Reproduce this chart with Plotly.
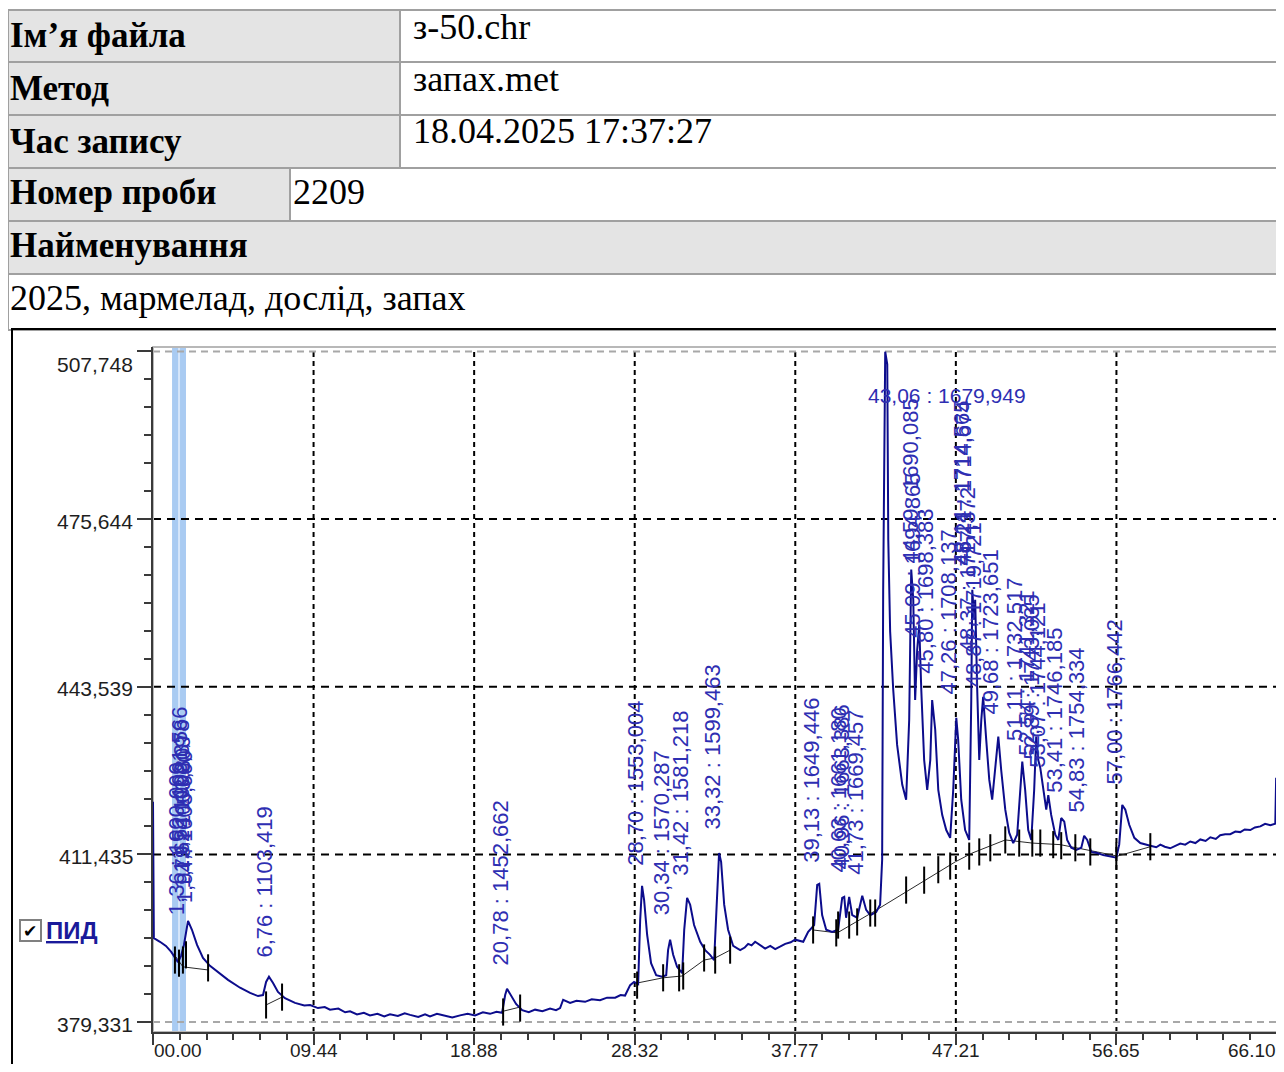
import plotly.graph_objects as go

# Паспорт проби (таблиця над хроматограмою)
field_names = ["Ім’я файла", "Метод", "Час запису", "Номер проби", "Найменування"]
field_values = ["з-50.chr", "запах.met", "18.04.2025 17:37:27", "2209", ""]
sample_name = "2025, мармелад, дослід, запах"

# Хроматограма ПИД: час утримання, хв / сигнал
time_min = [
    0.0, 0.05, 0.41, 0.76, 1.06, 1.29, 1.47, 1.65, 1.82, 2.06,
    2.29, 2.59, 2.94, 3.35, 3.82, 4.41, 5.12, 5.71, 6.18, 6.47,
    6.65, 6.82, 7.06, 7.35, 7.76, 8.35, 8.9,
    9.24, 9.7, 10.1, 10.41, 10.9, 11.3, 11.59, 12.0, 12.4, 12.76,
    13.2, 13.6, 13.94, 14.4, 14.8, 15.12, 15.6, 16.0, 16.29, 16.7,
    17.18, 17.6, 18.06, 18.5, 18.94, 19.4, 19.82, 20.2, 20.53, 20.71,
    20.82, 21.06, 21.35, 21.71, 22.1, 22.47, 22.9, 23.35, 23.7, 23.94,
    24.12, 24.53, 24.9, 25.41, 25.8, 26.29, 26.7, 27.18, 27.5, 27.76,
    28.06, 28.29, 28.53, 28.65, 28.76, 28.88, 29.06, 29.29, 29.59, 29.94,
    30.18, 30.29, 30.41, 30.59, 30.82, 31.12, 31.24, 31.41, 31.59, 31.82,
    32.18, 32.47, 32.76, 33.0, 33.18, 33.29, 33.41, 33.59, 33.82, 34.12,
    34.53, 34.8, 35.0, 35.2, 35.41, 35.7, 36.0, 36.3, 36.59, 36.9,
    37.18, 37.5, 37.76, 38.24, 38.53, 38.88, 39.06, 39.18, 39.35, 39.59,
    39.94, 40.29, 40.53, 40.65, 40.76, 40.94, 41.12, 41.41, 41.59, 41.71,
    41.94, 42.18, 42.53, 42.76, 42.88, 42.94, 43.06, 43.18, 43.24, 43.35,
    43.53, 43.76, 44.06, 44.29, 44.47, 44.59, 44.71, 44.82, 44.94, 45.06,
    45.18, 45.35, 45.53, 45.71, 45.82, 46.0, 46.18, 46.41, 46.65, 46.88,
    47.06, 47.24, 47.35, 47.53, 47.76, 48.0, 48.12, 48.18, 48.29, 48.35,
    48.47, 48.59, 48.71, 48.82, 49.0, 49.18, 49.35, 49.53, 49.71, 49.88,
    50.12, 50.35, 50.59, 50.82, 51.0, 51.12, 51.29, 51.47, 51.65, 51.82,
    51.94, 52.06, 52.18, 52.35, 52.53, 52.65, 52.82, 53.06, 53.24, 53.41,
    53.59, 53.76, 54.0, 54.29, 54.59, 54.76, 54.94, 55.18, 55.53, 55.88,
    56.29, 56.65, 56.82, 57.0, 57.18, 57.41, 57.71, 58.06, 58.65, 59.0,
    59.24, 59.5, 59.82, 60.1, 60.41, 60.7, 61.0, 61.3, 61.59, 61.9,
    62.18, 62.5, 62.76, 63.05, 63.35, 63.65, 63.94, 64.2, 64.53, 64.8,
    65.12, 65.4, 65.71, 66.0, 66.05,
]
signal = [
    421.5, 395.4, 394.7, 393.9, 392.8, 391.6, 390.8, 392.0, 394.1, 398.7,
    397.0, 394.1, 391.6, 390.1, 388.9, 387.4, 385.9, 384.9, 384.3, 384.5,
    387.0, 388.0, 386.8, 385.1, 383.9, 383.0, 382.5,
    382.6, 382.0, 382.2, 381.7, 381.9, 381.2, 381.4, 380.8, 381.1, 380.6,
    380.9, 380.4, 380.8, 380.5, 381.0, 380.7, 380.3, 380.8, 380.4, 380.9,
    380.5, 380.2, 380.6, 380.9, 380.6, 381.2, 380.9, 381.3, 381.1, 384.5,
    385.7, 384.5, 382.8, 381.6, 381.2, 381.7, 381.4, 381.9, 381.6, 382.0,
    383.6, 383.0, 383.4, 383.2, 383.7, 383.5, 384.0, 384.0, 384.5, 384.4,
    386.4, 387.0, 386.6, 398.9, 405.4, 402.7, 396.0, 390.6, 388.3, 388.0,
    388.3, 393.1, 395.1, 392.2, 389.9, 388.7, 397.0, 403.1, 401.8, 397.9,
    394.7, 393.1, 392.2, 391.2, 402.7, 411.7, 410.0, 401.8, 397.0, 393.9,
    393.1, 393.6, 394.3, 394.0, 394.7, 394.0, 393.4, 393.9, 393.3, 393.8,
    394.3, 394.6, 395.1, 394.7, 396.6, 397.9, 405.6, 405.8, 399.8, 397.0,
    396.6, 397.0, 403.1, 403.3, 399.3, 403.3, 399.8, 399.3, 401.8, 403.5,
    400.8, 399.8, 400.4, 401.8, 410.4, 462.1, 507.7, 505.3, 471.7, 454.1,
    443.0, 432.4, 424.8, 421.9, 437.2, 466.0, 460.2, 441.0, 450.6, 455.4,
    443.0, 429.5, 423.8, 429.5, 441.0, 435.3, 423.8, 419.0, 416.1, 414.6,
    423.8, 437.6, 433.4, 421.9, 416.1, 414.2, 441.0, 462.1, 456.4, 460.2,
    443.0, 429.5, 437.2, 441.6, 433.4, 425.7, 421.9, 427.6, 434.0, 427.6,
    420.0, 415.6, 413.6, 415.2, 423.8, 429.2, 423.8, 416.1, 414.2, 423.8,
    434.0, 429.5, 428.0, 423.8, 420.0, 422.8, 419.0, 415.2, 414.2, 418.4,
    417.7, 414.2, 412.7, 412.3, 412.7, 415.0, 414.2, 411.9, 411.7, 411.3,
    411.0, 410.8, 413.3, 420.9, 420.0, 417.1, 414.6, 413.6, 413.1, 412.8,
    413.3, 412.9, 412.6, 413.0, 413.5, 413.3, 413.9, 413.6, 414.3, 414.0,
    414.7, 414.4, 415.1, 415.3, 415.3, 415.8, 415.7, 416.2, 416.1, 416.6,
    416.8, 417.3, 417.0, 417.3, 426.1,
]

# базова лінія піків (None - розрив між ділянками)
baseline_t = [1.35, 1.76, 3.24, None, 6.65, 7.59, None, 20.59, 21.59, None,
              28.47, 30.0, 31.12, 32.41, 33.06, 33.94, None,
              38.82, 40.24, 42.35, 47.18, 48.18, 50.12, 51.71, 53.35, 55.53, 56.71, 58.65]
baseline_v = [391.8, 389.9, 389.3, None, 382.6, 384.1, None, 381.4, 382.2, None,
              386.8, 387.8, 388.15, 391.2, 391.6, 393.1, None,
              396.96, 396.4, 400.4, 410.0, 411.7, 414.2, 413.6, 413.3, 411.9, 411.1, 412.9]

# мітки початку/кінця піків
marker_t = [1.29, 1.53, 1.76, 1.94, 3.24, 6.65, 7.59, 20.59, 21.59,
            28.47, 30.0, 30.94, 31.18, 32.41, 33.06, 33.94,
            38.82, 40.18, 40.29, 40.94, 41.41, 42.18, 42.47,
            44.29, 45.35, 46.18, 46.88, 48.0, 48.59, 49.24, 50.12, 50.94,
            51.71, 52.18, 52.94, 53.41, 54.24, 55.12, 56.65, 58.65]
marker_v = [391.2, 390.6, 391.2, 392.2, 389.7, 382.6, 384.1, 381.25, 382.0,
            386.4, 387.8, 387.8, 388.15, 391.6, 391.2, 393.1,
            396.96, 396.4, 397.9, 397.9, 398.5, 400.2, 400.2,
            404.6, 406.5, 408.5, 409.2, 411.1, 411.9, 412.7, 414.2, 413.6,
            413.6, 413.6, 413.3, 413.1, 412.7, 411.9, 411.1, 412.9]

# підписи піків "час : індекс"
label_text = [
    "1,36 : 1000,000", "1,52 : 1001,566", "1,62 : 1002,378", "1,79 : 1003,809",
    "1,94 : 1005,000", "6,76 : 1103,419", "20,78 : 1452,662", "28,70 : 1553,004",
    "30,34 : 1570,287", "31,42 : 1581,218", "33,32 : 1599,463", "39,13 : 1649,446",
    "40,63 : 1661,180", "40,96 : 1663,386", "41,73 : 1669,457", "44,59 : 1690,085",
    "45,09 : 1694,865", "45,80 : 1698,383", "47,26 : 1708,137", "48,14 : 1714,565",
    "48,21 : 1714,674", "48,37 : 1717,372", "48,87 : 1719,721", "49,68 : 1723,651",
    "51,11 : 1732,517", "52,54 : 1741,321", "52,89 : 1743,035", "53,07 : 1744,121",
    "53,41 : 1746,185", "54,83 : 1754,334", "57,00 : 1766,442",
]
label_t = [1.35, 1.53, 1.65, 1.76, 1.82, 6.53, 20.41, 28.41,
           29.88, 31.0, 32.88, 38.71, 40.29, 40.47, 41.29, 44.53,
           44.65, 45.41, 46.76, 47.53, 47.65, 47.88, 48.24, 49.24,
           50.71, 51.35, 51.65, 52.0, 53.0, 54.29, 56.53]
label_v = [399.5, 410.0, 407.5, 404.6, 401.8, 391.2, 389.7, 408.8,
           399.3, 406.9, 415.75, 409.4, 407.5, 408.1, 407.1, 466.7,
           452.5, 445.6, 441.6, 466.3, 466.3, 449.7, 443.0, 437.8,
           432.8, 429.9, 429.2, 427.6, 422.8, 419.0, 424.4]

top_label = "43,06 : 1679,949"
top_label_t = 41.94
top_label_v = 499.3

# виділена ділянка на початку
band_t = [1.12, 1.94]

x_ticks = [0, 9.443, 18.886, 28.329, 37.771, 47.214, 56.657, 66.1]
x_ticktext = ["00.00", "09.44", "18.88", "28.32", "37.77", "47.21", "56.65", "66.10"]
y_ticks = [379.331, 411.435, 443.539, 475.644, 507.748]
y_ticktext = ["379,331", "411,435", "443,539", "475,644", "507,748"]

W, H = 1276, 1056  # сторінка має відступ 8 px


def sx(X):
    return (X - 8) / W


def sy(Y):
    return 1 - (Y - 8) / H


SANS = "Liberation Sans, Arial, sans-serif"
SERIF = "Liberation Serif, Times New Roman, serif"
LABEL_BLUE = "#2e2eb2"
AXIS_TXT = "#1e1e1e"

fig = go.Figure()

fig.add_trace(go.Scatter(x=baseline_t, y=baseline_v, mode="lines",
                         line=dict(color="#2a2a2a", width=1), hoverinfo="skip"))
fig.add_trace(go.Scatter(x=time_min, y=signal, mode="lines",
                         line=dict(color="#0c0c8c", width=2), name="ПИД"))

tick_x, tick_y = [], []
for t, v in zip(marker_t, marker_v):
    tick_x += [t, t, None]
    tick_y += [v - 2.6, v + 2.6, None]
fig.add_trace(go.Scatter(x=tick_x, y=tick_y, mode="lines",
                         line=dict(color="black", width=2), hoverinfo="skip"))

shapes = []


def cell(X0, Y0, X1, Y1, fill):
    shapes.append(dict(type="rect", xref="paper", yref="paper",
                       x0=sx(X0), x1=sx(X1), y0=sy(Y1), y1=sy(Y0),
                       line=dict(color="#a0a0a0", width=2), fillcolor=fill, layer="above"))


GRAY = "#e4e4e4"
rows_y = [10, 62, 115, 168, 221, 274, 330]
for i in range(3):
    cell(8, rows_y[i], 400, rows_y[i + 1], GRAY)
    cell(400, rows_y[i], 1300, rows_y[i + 1], "white")
cell(8, rows_y[3], 290, rows_y[4], GRAY)
cell(290, rows_y[3], 1300, rows_y[4], "white")
cell(8, rows_y[4], 1300, rows_y[5], GRAY)
cell(8, rows_y[5], 1300, rows_y[6], "white")

# рамка графіка
shapes.append(dict(type="rect", xref="paper", yref="paper",
                   x0=sx(12), x1=sx(1282), y0=sy(1090), y1=sy(329),
                   line=dict(color="black", width=2), fillcolor="rgba(0,0,0,0)", layer="above"))

# виділення
shapes.append(dict(type="rect", xref="x", yref="y domain", x0=band_t[0], x1=band_t[1],
                   y0=0, y1=1, line=dict(width=0), fillcolor="#a9cbf2", layer="below"))
shapes.append(dict(type="line", xref="x", yref="y domain", x0=sum(band_t) / 2, x1=sum(band_t) / 2,
                   y0=0, y1=1, line=dict(color="#d6e6fa", width=2), layer="below"))

# сітка
for xv in x_ticks[1:-1]:
    shapes.append(dict(type="line", xref="x", yref="y domain", x0=xv, x1=xv, y0=0, y1=1,
                       line=dict(color="black", width=2, dash="5px,4px"), layer="below"))
for yv in y_ticks[1:-1]:
    shapes.append(dict(type="line", xref="x domain", yref="y", x0=0, x1=1, y0=yv, y1=yv,
                       line=dict(color="black", width=2, dash="8px,6px"), layer="below"))
for yv in (y_ticks[0], y_ticks[-1]):
    shapes.append(dict(type="line", xref="x domain", yref="y", x0=0, x1=1, y0=yv, y1=yv,
                       line=dict(color="#a8a8a8", width=2, dash="7px,5px"), layer="below"))
shapes.append(dict(type="rect", xref="x domain", yref="y domain", x0=0, x1=1, y0=0, y1=1,
                   line=dict(color="#b8b8b8", width=2), layer="below"))

# чекбокс легенди
shapes.append(dict(type="rect", xref="paper", yref="paper", x0=sx(20), x1=sx(41), y0=sy(941), y1=sy(920),
                   line=dict(color="#808080", width=2), fillcolor="white", layer="above"))

annotations = []
label_y = [36, 88, 141, 193, 246]
value_y = [27, 79, 131, 192]
value_x = [411, 411, 411, 291]
for name, yy in zip(field_names, label_y):
    annotations.append(dict(xref="paper", yref="paper", x=sx(8), y=sy(yy), xanchor="left", yanchor="middle",
                            text=f"<b>{name}</b>", showarrow=False,
                            font=dict(family=SERIF, size=35, color="black")))
for val, xx, yy in zip(field_values, value_x, value_y):
    annotations.append(dict(xref="paper", yref="paper", x=sx(xx), y=sy(yy), xanchor="left", yanchor="middle",
                            text=val, showarrow=False, font=dict(family=SERIF, size=36, color="black")))
annotations.append(dict(xref="paper", yref="paper", x=sx(8), y=sy(298), xanchor="left", yanchor="middle",
                        text=sample_name, showarrow=False, font=dict(family=SERIF, size=36, color="black")))

for txt, t, v in zip(label_text, label_t, label_v):
    annotations.append(dict(x=t, y=v, xref="x", yref="y", text=txt, textangle=-90,
                            xanchor="center", yanchor="bottom", showarrow=False,
                            font=dict(family=SANS, size=22, color=LABEL_BLUE)))
annotations.append(dict(x=top_label_t, y=top_label_v, xref="x", yref="y", text=top_label,
                        xanchor="left", yanchor="middle", showarrow=False,
                        font=dict(family=SANS, size=21, color=LABEL_BLUE)))

# підписи осей
for i, (yv, txt) in enumerate(zip(y_ticks, y_ticktext)):
    annotations.append(dict(xref="paper", yref="y", x=sx(135), y=yv,
                            yshift=-13 if i == len(y_ticks) - 1 else -2,
                            xanchor="right", yanchor="middle", text=txt, showarrow=False,
                            font=dict(family=SANS, size=21, color=AXIS_TXT)))
for i, (xv, txt) in enumerate(zip(x_ticks, x_ticktext)):
    anchor = "left" if i == 0 else ("right" if i == len(x_ticks) - 1 else "center")
    annotations.append(dict(xref="x", yref="paper", x=xv, y=sy(1050), xanchor=anchor, yanchor="middle",
                            text=txt, showarrow=False, borderpad=0,
                            font=dict(family=SANS, size=19, color=AXIS_TXT)))

annotations.append(dict(xref="paper", yref="paper", x=sx(30.5), y=sy(930.5), xanchor="center", yanchor="middle",
                        text="✔", showarrow=False, font=dict(family="DejaVu Sans", size=17, color="black")))
annotations.append(dict(xref="paper", yref="paper", x=sx(44), y=sy(930), xanchor="left", yanchor="middle",
                        text="<b><u>ПИД</u></b>", showarrow=False,
                        font=dict(family=SANS, size=24, color="#1a1a9a")))

axis_common = dict(showline=True, linecolor="#3a3a3a", linewidth=2, ticks="outside",
                   tickwidth=2, tickcolor="#3a3a3a", showgrid=False, zeroline=False,
                   showticklabels=False, automargin=False)

fig.update_layout(
    width=W, height=H,
    margin=dict(l=0, r=0, t=0, b=0),
    paper_bgcolor="white", plot_bgcolor="white",
    showlegend=False,
    shapes=shapes,
    annotations=annotations,
    xaxis=dict(range=[x_ticks[0], x_ticks[-1]], domain=[sx(153), sx(1277)], tickvals=x_ticks,
               ticklen=11,
               minor=dict(ticks="outside", ticklen=6, tickwidth=2, tickcolor="#3a3a3a",
                          tick0=0, dtick=x_ticks[1] / 6),
               **axis_common),
    yaxis=dict(range=[377.42, 508.6], domain=[sy(1032), sy(347)], tickvals=y_ticks,
               ticklen=14,
               minor=dict(ticks="outside", ticklen=7, tickwidth=2, tickcolor="#3a3a3a",
                          tick0=y_ticks[0], dtick=(y_ticks[1] - y_ticks[0]) / 6),
               **axis_common),
)

fig.write_html("out.html", config={"displayModeBar": False})
